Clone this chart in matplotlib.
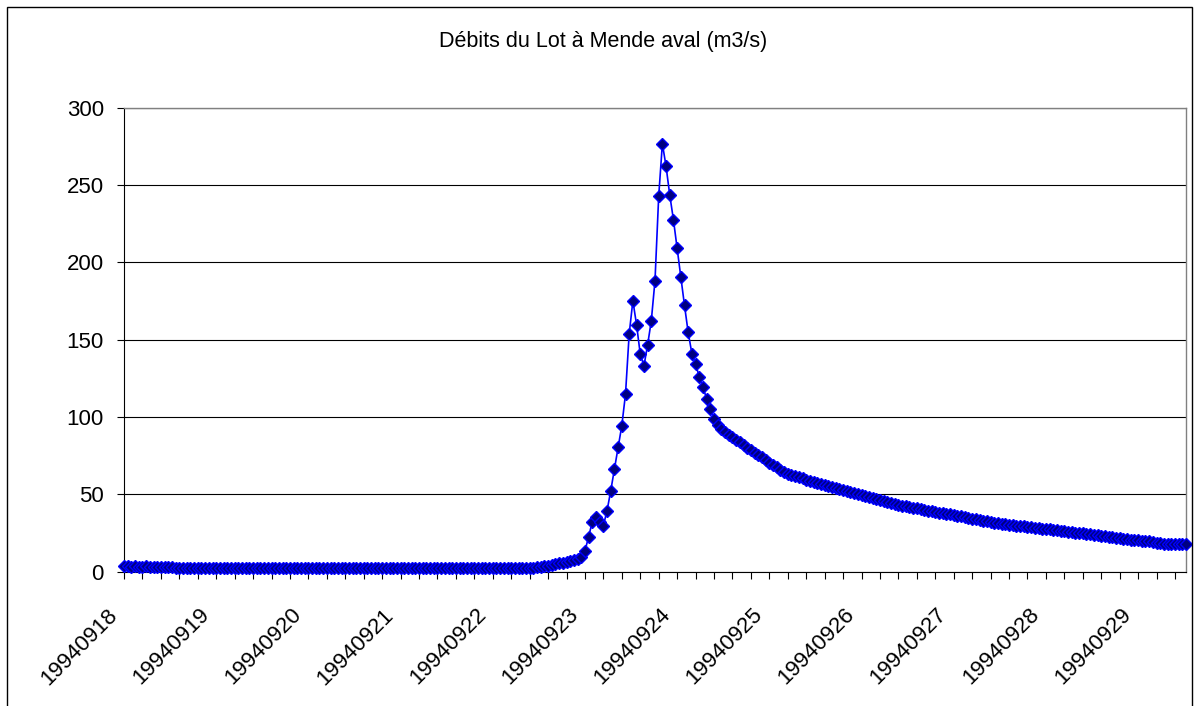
import numpy as np
import matplotlib
matplotlib.use("Agg")
import matplotlib.pyplot as plt
from matplotlib.patches import Rectangle
from matplotlib.transforms import ScaledTranslation

plt.rcParams['font.family'] = ['Liberation Sans', 'DejaVu Sans']

title = "Débits du Lot à Mende aval (m3/s)"

# Hourly discharge (m3/s), one list per day, starting at 00h
q_0918 = [3.3, 3.3, 3.2, 3.3, 3.2, 3.2, 3.3, 3.2, 3.2, 3.2, 3.1, 3.2,
          3.1, 3.1, 2.2, 2.1, 2.1, 2.1, 2.1, 2.1, 2.1, 2.1, 2.1, 2.1]
q_0919 = [2.1, 2.1, 2.1, 2.0, 2.1, 2.1, 2.1, 2.1, 2.0, 2.1, 2.1, 2.1,
          2.1, 2.1, 2.0, 2.1, 2.1, 2.1, 2.1, 2.1, 2.0, 2.1, 2.1, 2.1]
q_0920 = [2.1, 2.1, 2.0, 2.1, 2.1, 2.1, 2.1, 2.1, 2.1, 2.0, 2.1, 2.1,
          2.1, 2.1, 2.1, 2.0, 2.1, 2.1, 2.1, 2.1, 2.1, 2.0, 2.1, 2.1]
q_0921 = [2.1, 2.1, 2.1, 2.1, 2.0, 2.1, 2.1, 2.1, 2.1, 2.1, 2.0, 2.1,
          2.1, 2.1, 2.1, 2.1, 2.0, 2.1, 2.1, 2.1, 2.1, 2.1, 2.0, 2.1]
q_0922 = [2.1, 2.1, 2.1, 2.1, 2.1, 2.1, 2.1, 2.1, 2.1, 2.1, 2.1, 2.1,
          2.1, 2.1, 2.3, 2.5, 2.8, 3.1, 3.4, 3.8, 4.2, 4.8, 5.3, 5.8]
q_0923 = [6.3, 6.8, 7.4, 8.1, 9.2, 13.3, 22.5, 32.3, 35.1, 32.3, 29.7, 39.4,
          52.3, 66.4, 80.8, 94.4, 114.8, 153.8, 175.2, 159.7, 140.7, 133.1, 146.7, 162.4]
q_0924 = [188.3, 242.8, 276.9, 262.2, 243.7, 227.7, 209.1, 190.5, 172.2, 154.7, 141.1, 134.0,
          126.2, 119.3, 111.9, 105.0, 98.8, 94.5, 92.0, 90.3, 88.6, 87.0, 85.3, 83.6]
q_0925 = [81.8, 80.2, 78.6, 77.0, 75.5, 73.8, 72.2, 70.5, 69.0, 67.4, 65.8, 64.3,
          63.0, 62.2, 61.5, 61.0, 60.2, 59.4, 58.7, 58.0, 57.4, 56.8, 56.1, 55.4]
q_0926 = [54.8, 54.1, 53.4, 52.8, 52.2, 51.5, 50.9, 50.1, 49.4, 48.7, 48.0, 47.3,
          46.7, 46.1, 45.5, 45.0, 44.4, 43.8, 43.2, 42.7, 42.2, 41.8, 41.3, 40.8]
q_0927 = [40.3, 39.8, 39.4, 39.0, 38.5, 38.1, 37.7, 37.3, 36.9, 36.4, 36.0, 35.6,
          35.2, 34.8, 34.3, 33.8, 33.4, 32.8, 32.4, 32.1, 31.7, 31.3, 30.9, 30.5]
q_0928 = [30.1, 29.9, 29.7, 29.4, 29.2, 29.0, 28.7, 28.3, 28.0, 27.7, 27.4, 27.2,
          27.0, 26.7, 26.4, 26.1, 25.8, 25.5, 25.2, 24.9, 24.6, 24.4, 24.2, 23.9]
q_0929 = [23.6, 23.3, 22.9, 22.5, 22.2, 21.9, 21.5, 21.2, 20.9, 20.6, 20.4, 20.2,
          20.0, 19.8, 19.5, 19.1, 18.7, 18.3, 18.0, 17.8, 17.7, 17.7, 17.8, 17.8]
q_0930 = [18.0]

flow = (q_0918 + q_0919 + q_0920 + q_0921 + q_0922 + q_0923 + q_0924
        + q_0925 + q_0926 + q_0927 + q_0928 + q_0929 + q_0930)

# Category label of each hourly record: its date
dates = [f"199409{18 + h // 24:02d}" for h in range(len(flow))]

W, H = 1198, 706
fig = plt.figure(figsize=(W / 100, H / 100), dpi=100)
fig.patch.set_facecolor('white')

# Chart frame
fig.add_artist(Rectangle((7 / W, -0.05), (1192 - 7) / W, 1.05 - 7 / H,
                         transform=fig.transFigure, fill=False,
                         edgecolor='black', linewidth=1.0, clip_on=False))

left, right, top, bottom = 124, 1186, 108, 571.5
ax = fig.add_axes([left / W, (H - bottom) / H, (right - left) / W, (bottom - top) / H])

x = np.arange(len(flow))
ax.plot(x, flow, color='#0000ff', linewidth=1.2, marker='D', markersize=5.8,
        markerfacecolor='#000080', markeredgecolor='#0000ff', markeredgewidth=1.0,
        zorder=3, clip_on=False)

ax.set_xlim(0, len(flow) - 1)
ax.set_ylim(0, 300)

# Value axis
ax.set_yticks(np.arange(0, 301, 50))
ax.yaxis.grid(True, color='black', linewidth=0.8)
ax.set_axisbelow(True)
ax.tick_params(axis='y', direction='out', length=5, width=0.8, pad=9.5,
               labelsize=16, colors='black')

# Category axis: a tick every 5 records, a label every 25
label_pos = list(range(0, len(flow), 25))
ax.set_xticks(label_pos)
ax.set_xticklabels([dates[i] for i in label_pos])
ax.set_xticks(range(0, len(flow), 5), minor=True)
ax.tick_params(axis='x', which='both', direction='out', length=5, width=0.8,
               colors='black')
ax.tick_params(axis='x', which='major', labelsize=16, pad=24)
shift = ScaledTranslation(-10 / 100, 0, fig.dpi_scale_trans)
for lab in ax.get_xticklabels():
    lab.set_rotation(45)
    lab.set_ha('right')
    lab.set_va('center')
    lab.set_rotation_mode('anchor')
    lab.set_transform(lab.get_transform() + shift)

for side in ('left', 'bottom'):
    ax.spines[side].set_color('black')
    ax.spines[side].set_linewidth(0.8)
for side in ('top', 'right'):
    ax.spines[side].set_color('#808080')
    ax.spines[side].set_linewidth(1.0)

fig.text(603 / W, 1 - 42 / H, title, ha='center', va='center', fontsize=15.5)

fig.savefig('out.png', dpi=100, facecolor='white')
